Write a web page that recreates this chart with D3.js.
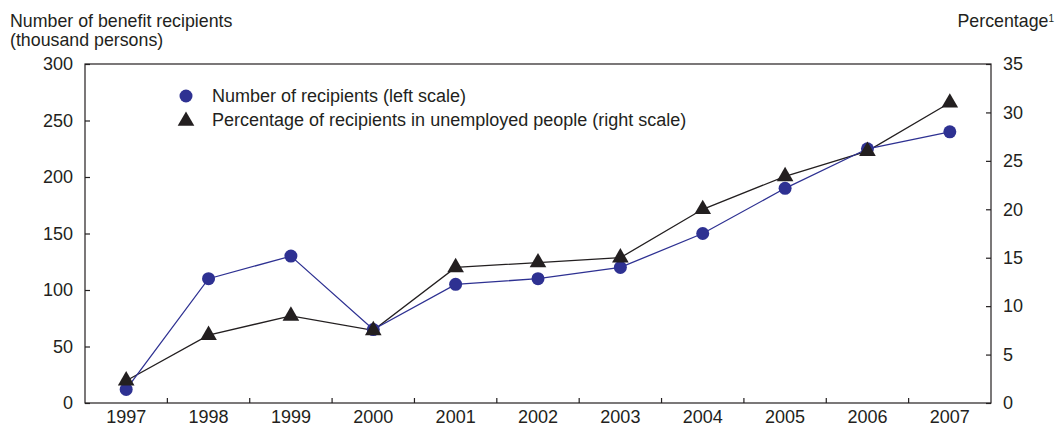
<!DOCTYPE html>
<html><head><meta charset="utf-8">
<script src="https://cdn.jsdelivr.net/npm/d3@7/dist/d3.min.js"></script>
<style>
body{margin:0;background:#fff;}
text{font-family:"Liberation Sans",Arial,sans-serif;fill:#231f20;}
</style></head>
<body><svg id="c" width="1057" height="427"></svg>
<script>
const years = ["1997","1998","1999","2000","2001","2002","2003","2004","2005","2006","2007"];
const recipients = [12,110,130,65,105,110,120,150,190,225,240];
const percentage = [2.3,7,9,7.5,14,14.5,15,20,23.4,26,31];
const leftTicks = [0,50,100,150,200,250,300];
const rightTicks = [0,5,10,15,20,25,30,35];

const svg = d3.select("#c");
const L=85, R=991, T=64, B=403;
const x = d3.scaleBand().domain(years).range([L,R]);
const yL = d3.scaleLinear().domain([0,300]).range([B,T]);
const yR = d3.scaleLinear().domain([0,35]).range([B,T]);
const blue = "#2e3192", dark = "#231f20";

svg.append("rect").attr("x",L).attr("y",T).attr("width",R-L).attr("height",B-T)
  .attr("fill","none").attr("stroke",dark).attr("stroke-width",1.2);

const gl = svg.append("g").attr("transform",`translate(${L},0)`)
  .call(d3.axisLeft(yL).tickValues(leftTicks).tickSize(-5).tickPadding(12));
const gr = svg.append("g").attr("transform",`translate(${R},0)`)
  .call(d3.axisRight(yR).tickValues(rightTicks).tickSize(-5).tickPadding(12));
const gb = svg.append("g").attr("transform",`translate(0,${B})`)
  .call(d3.axisBottom(x).tickSize(0).tickPadding(7));
[gl,gr,gb].forEach(g=>{
  g.select(".domain").remove();
  g.selectAll("line").attr("stroke",dark).attr("stroke-width",1.2);
  g.selectAll("text").style("font-size","18px").attr("fill",dark)
   .style("font-family","'Liberation Sans',Arial,sans-serif");
});
svg.append("g").selectAll("line").data(years.slice(1)).join("line")
  .attr("x1",d=>x(d)).attr("x2",d=>x(d)).attr("y1",B).attr("y2",B-5)
  .attr("stroke",dark).attr("stroke-width",1.2);

const cx = d=>x(d)+x.bandwidth()/2;

svg.append("path").datum(years)
  .attr("d", d3.line().x(cx).y((d,i)=>yR(percentage[i])))
  .attr("fill","none").attr("stroke",dark).attr("stroke-width",1.3);
svg.append("path").datum(years)
  .attr("d", d3.line().x(cx).y((d,i)=>yL(recipients[i])))
  .attr("fill","none").attr("stroke",blue).attr("stroke-width",1.3);

svg.append("g").selectAll("circle").data(years).join("circle")
  .attr("cx",cx).attr("cy",(d,i)=>yL(recipients[i])).attr("r",6.5).attr("fill",blue);
const tri = d3.symbol().type(d3.symbolTriangle).size(120);
svg.append("g").selectAll("path").data(years).join("path")
  .attr("d",tri).attr("fill",dark)
  .attr("transform",(d,i)=>`translate(${cx(d)},${yR(percentage[i])})`);

svg.append("text").attr("x",10).attr("y",27).style("font-size","17.8px").text("Number of benefit recipients");
svg.append("text").attr("x",10).attr("y",46).style("font-size","17.8px").text("(thousand persons)");
const pt = svg.append("text").attr("x",1054).attr("y",27).attr("text-anchor","end").style("font-size","17.8px");
pt.append("tspan").text("Percentage");
pt.append("tspan").attr("dy",-5).style("font-size","10px").text("1");

svg.append("circle").attr("cx",186).attr("cy",96).attr("r",6.5).attr("fill",blue);
svg.append("text").attr("x",212).attr("y",102).style("font-size","18px").text("Number of recipients (left scale)");
svg.append("path").attr("d",tri).attr("fill",dark).attr("transform","translate(186,121)");
svg.append("text").attr("x",212).attr("y",126).style("font-size","18px").text("Percentage of recipients in unemployed people (right scale)");
</script></body></html>
